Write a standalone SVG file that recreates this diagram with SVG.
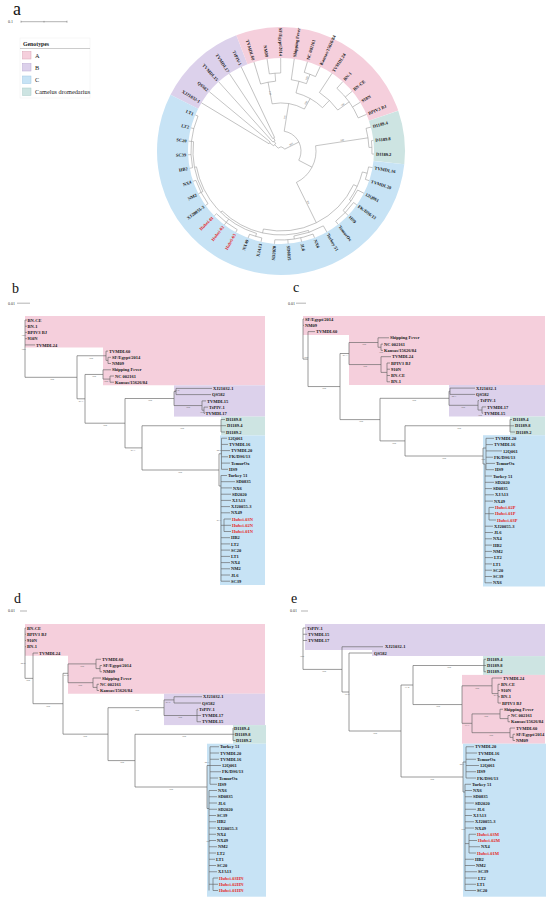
<svg xmlns="http://www.w3.org/2000/svg" width="550" height="903" viewBox="0 0 550 903">
<style>
.l{font-family:"Liberation Serif",serif;font-size:4.5px;font-weight:bold;fill:#1a1a1a}
.r{fill:#e41f26}
.e{text-anchor:end}
.s{font-family:"Liberation Serif",serif;font-size:2.6px;fill:#666;text-anchor:middle}
.t{fill:none;stroke:#636363;stroke-width:0.65}
.ta{fill:none;stroke:#858585;stroke-width:0.45}
.pl{font-family:"Liberation Serif",serif;font-size:14px;fill:#111}
.sc{font-family:"Liberation Serif",serif;font-size:4px;fill:#333}
.sb{fill:none;stroke:#666;stroke-width:0.5}
.cA{fill:#f5cfdc}.cB{fill:#dcd1eb}.cC{fill:#c7e3f5}.cD{fill:#cde4e2}
.lg{font-family:"Liberation Serif",serif;font-size:6.3px;fill:#222}
</style>
<rect width="550" height="903" fill="#fff"/>

<!-- ================= Panel a ================= -->
<g id="panel-a">
<text class="pl" x="13" y="15" style="font-size:18px">a</text>
<g id="a-scale"><text class="sc" x="8" y="23.3">0.1</text><path class="sb" d="M21,21.7H67M21,20.7V22.7M44,20.9V22.5M67,20.7V22.7"/></g>
<g id="legend">
<rect x="20" y="38" width="70" height="60" fill="#fff" stroke="#eee" stroke-width="0.5"/>
<text x="23" y="45.5" style="font-family:'Liberation Serif',serif;font-size:5.8px;font-weight:bold;fill:#222">Genotypes</text>
<path d="M20,48.5H90" stroke="#999" stroke-width="0.5"/>
<rect x="22.5" y="51.5" width="8.5" height="7.5" class="cA" stroke="#d9a3b5" stroke-width="0.5"/><text class="lg" x="35" y="57.6">A</text>
<rect x="22.5" y="63.5" width="8.5" height="7.5" class="cB" stroke="#b9a8d2" stroke-width="0.5"/><text class="lg" x="35" y="69.6">B</text>
<rect x="22.5" y="76" width="8.5" height="7.5" class="cC" stroke="#9ec8e3" stroke-width="0.5"/><text class="lg" x="35" y="82.1">C</text>
<rect x="22.5" y="88" width="8.5" height="7.5" class="cD" stroke="#a9cbc8" stroke-width="0.5"/><text class="lg" x="35" y="94.1">Camelus dromedarius</text>
</g>
<g id="a-ring" transform="translate(281,151)" fill="none" stroke-width="31">
<circle r="108.5" pathLength="360" stroke="#dcd1eb" stroke-dasharray="41.9 400" transform="rotate(207)"/>
<circle r="108.5" pathLength="360" stroke="#f5cfdc" stroke-dasharray="92.1 400" transform="rotate(248.9)"/>
<circle r="108.5" pathLength="360" stroke="#cde4e2" stroke-dasharray="25.1 400" transform="rotate(341)"/>
<circle r="108.5" pathLength="360" stroke="#c7e3f5" stroke-dasharray="200.9 400" transform="rotate(6.1)"/>
</g>
<g id="a-connectors" class="ta" transform="translate(281,151)">
<circle r="14" pathLength="360" stroke-dasharray="8.4 400" transform="rotate(211.2)"/>
<circle r="15" pathLength="360" stroke-dasharray="8.4 400" transform="rotate(236.3)"/>
<circle r="12" pathLength="360" stroke-dasharray="12.5 400" transform="rotate(228)"/>
<circle r="9" pathLength="360" stroke-dasharray="18.85 400" transform="rotate(215.4)"/>
<circle r="78" pathLength="360" stroke-dasharray="8.4 400" transform="rotate(261.4)"/>
<circle r="70" pathLength="360" stroke-dasharray="12.5 400" transform="rotate(253.1)"/>
<circle r="82" pathLength="360" stroke-dasharray="8.4 400" transform="rotate(286.5)"/>
<circle r="72" pathLength="360" stroke-dasharray="12.5 400" transform="rotate(278.2)"/>
<circle r="84" pathLength="360" stroke-dasharray="25.1 400" transform="rotate(311.7)"/>
<circle r="70" pathLength="360" stroke-dasharray="20.9 400" transform="rotate(303.3)"/>
<circle r="60" pathLength="360" stroke-dasharray="29.3 400" transform="rotate(284.45)"/>
<circle r="48" pathLength="360" stroke-dasharray="39.75 400" transform="rotate(259.35)"/>
<circle r="91" pathLength="360" stroke-dasharray="8.4 400" transform="rotate(353.5)"/>
<circle r="88" pathLength="360" stroke-dasharray="12.6 400" transform="rotate(345.1)"/>
<circle r="89" pathLength="360" stroke-dasharray="8.3 400" transform="rotate(370.3)"/>
<circle r="89" pathLength="360" stroke-dasharray="16.7 400" transform="rotate(395.4)"/>
<circle r="86" pathLength="360" stroke-dasharray="16.8 400" transform="rotate(387)"/>
<circle r="84" pathLength="360" stroke-dasharray="20.95 400" transform="rotate(374.45)"/>
<circle r="89" pathLength="360" stroke-dasharray="25.1 400" transform="rotate(428.9)"/>
<circle r="86" pathLength="360" stroke-dasharray="20.9 400" transform="rotate(420.5)"/>
<circle r="89" pathLength="360" stroke-dasharray="8.3 400" transform="rotate(462.4)"/>
<circle r="90" pathLength="360" stroke-dasharray="16.7 400" transform="rotate(479.1)"/>
<circle r="90" pathLength="360" stroke-dasharray="16.8 400" transform="rotate(504.2)"/>
<circle r="90" pathLength="360" stroke-dasharray="33.5 400" transform="rotate(529.3)"/>
<circle r="88" pathLength="360" stroke-dasharray="33.5 400" transform="rotate(512.6)"/>
<circle r="86" pathLength="360" stroke-dasharray="62.8 400" transform="rotate(466.55)"/>
<circle r="84" pathLength="360" stroke-dasharray="63.55 400" transform="rotate(430.95)"/>
<circle r="80" pathLength="360" stroke-dasharray="77.8 400" transform="rotate(384.9)"/>
<circle r="35" pathLength="360" stroke-dasharray="72.4 400" transform="rotate(351.4)"/>
<circle r="20" pathLength="360" stroke-dasharray="108.4 400" transform="rotate(279.2)"/>
<circle r="4" pathLength="360" stroke-dasharray="108.6 400" transform="rotate(224.8)"/>
<line x1="4" x2="9" transform="rotate(224.8)"/>
<line x1="4" x2="20" transform="rotate(333.4)"/>
<line x1="20" x2="48" transform="rotate(279.2)"/>
<line x1="20" x2="35" transform="rotate(387.6)"/>
<line x1="35" x2="88" transform="rotate(351.4)"/>
<line x1="35" x2="80" transform="rotate(423.8)"/>
<line x1="9" x2="14" transform="rotate(215.4)"/>
<line x1="9" x2="12" transform="rotate(234.25)"/>
<line x1="12" x2="15" transform="rotate(240.5)"/>
<line x1="48" x2="70" transform="rotate(259.35)"/>
<line x1="48" x2="60" transform="rotate(299.1)"/>
<line x1="70" x2="78" transform="rotate(265.6)"/>
<line x1="60" x2="72" transform="rotate(284.45)"/>
<line x1="60" x2="70" transform="rotate(313.75)"/>
<line x1="72" x2="82" transform="rotate(290.7)"/>
<line x1="70" x2="84" transform="rotate(324.2)"/>
<line x1="88" x2="91" transform="rotate(357.7)"/>
<line x1="80" x2="84" transform="rotate(384.9)"/>
<line x1="80" x2="84" transform="rotate(462.7)"/>
<line x1="84" x2="89" transform="rotate(374.45)"/>
<line x1="84" x2="86" transform="rotate(395.4)"/>
<line x1="86" x2="89" transform="rotate(403.8)"/>
<line x1="84" x2="86" transform="rotate(430.95)"/>
<line x1="84" x2="86" transform="rotate(494.5)"/>
<line x1="86" x2="89" transform="rotate(441.4)"/>
<line x1="86" x2="89" transform="rotate(466.55)"/>
<line x1="86" x2="90" transform="rotate(487.5)"/>
<line x1="86" x2="88" transform="rotate(529.35)"/>
<line x1="88" x2="90" transform="rotate(512.6)"/>
<line x1="88" x2="90" transform="rotate(546.1)"/>
<line x1="14" x2="93" transform="rotate(211.2)"/>
<line x1="14" x2="93" transform="rotate(219.6)"/>
<line x1="12" x2="93" transform="rotate(228)"/>
<line x1="15" x2="93" transform="rotate(236.3)"/>
<line x1="15" x2="93" transform="rotate(244.7)"/>
<line x1="70" x2="93" transform="rotate(253.1)"/>
<line x1="78" x2="93" transform="rotate(261.4)"/>
<line x1="78" x2="93" transform="rotate(269.8)"/>
<line x1="72" x2="93" transform="rotate(278.2)"/>
<line x1="82" x2="93" transform="rotate(286.5)"/>
<line x1="82" x2="93" transform="rotate(294.9)"/>
<line x1="70" x2="93" transform="rotate(303.3)"/>
<line x1="84" x2="93" transform="rotate(311.7)"/>
<line x1="84" x2="93" transform="rotate(320)"/>
<line x1="84" x2="93" transform="rotate(328.4)"/>
<line x1="84" x2="93" transform="rotate(336.8)"/>
<line x1="88" x2="93" transform="rotate(345.1)"/>
<line x1="91" x2="93" transform="rotate(353.5)"/>
<line x1="91" x2="93" transform="rotate(361.9)"/>
<line x1="89" x2="93" transform="rotate(370.3)"/>
<line x1="89" x2="93" transform="rotate(378.6)"/>
<line x1="86" x2="93" transform="rotate(387)"/>
<line x1="89" x2="93" transform="rotate(395.4)"/>
<line x1="89" x2="93" transform="rotate(403.8)"/>
<line x1="89" x2="93" transform="rotate(412.1)"/>
<line x1="86" x2="93" transform="rotate(420.5)"/>
<line x1="89" x2="93" transform="rotate(428.9)"/>
<line x1="89" x2="93" transform="rotate(437.2)"/>
<line x1="89" x2="93" transform="rotate(445.6)"/>
<line x1="89" x2="93" transform="rotate(454)"/>
<line x1="89" x2="93" transform="rotate(462.4)"/>
<line x1="89" x2="93" transform="rotate(470.7)"/>
<line x1="90" x2="93" transform="rotate(479.1)"/>
<line x1="90" x2="93" transform="rotate(487.5)"/>
<line x1="90" x2="93" transform="rotate(495.8)"/>
<line x1="90" x2="93" transform="rotate(504.2)"/>
<line x1="90" x2="93" transform="rotate(512.6)"/>
<line x1="90" x2="93" transform="rotate(521)"/>
<line x1="90" x2="93" transform="rotate(529.3)"/>
<line x1="90" x2="93" transform="rotate(537.7)"/>
<line x1="90" x2="93" transform="rotate(546.1)"/>
<line x1="90" x2="93" transform="rotate(554.4)"/>
<line x1="90" x2="93" transform="rotate(562.8)"/>
</g>
<g id="a-support" class="s" transform="translate(281,151)">
<text transform="rotate(279.2) translate(34,-0.8)">100</text>
<text transform="rotate(351.4) translate(62,-0.8)">100</text>
<text transform="rotate(423.8) translate(58,-0.8)">100</text>
<text transform="rotate(299.1) translate(54,-0.8)">100</text>
<text transform="rotate(259.35) translate(59,-0.8) rotate(180)">100</text>
<text transform="rotate(324.2) translate(77,-0.8)">100</text>
<text transform="rotate(290.7) translate(77,-0.8)">100</text>
<text transform="rotate(333.4) translate(12,-0.8)">100</text>
</g>
<g id="a-leaves" class="l" transform="translate(281,151)">
<text class="e" transform="rotate(211.2) translate(95,0) rotate(180)" dy="1.5">XJ21032-1</text>
<text class="e" transform="rotate(219.6) translate(95,0) rotate(180)" dy="1.5">QS582</text>
<text class="e" transform="rotate(228) translate(95,0) rotate(180)" dy="1.5">TVMDL15</text>
<text class="e" transform="rotate(236.3) translate(95,0) rotate(180)" dy="1.5">TVMDL17</text>
<text class="e" transform="rotate(244.7) translate(95,0) rotate(180)" dy="1.5">TtPIV-1</text>
<text class="e" transform="rotate(253.1) translate(95,0) rotate(180)" dy="1.5">TVMDL60</text>
<text class="e" transform="rotate(261.4) translate(95,0) rotate(180)" dy="1.5">NM09</text>
<text class="e" transform="rotate(269.8) translate(95,0) rotate(180)" dy="1.5">SF/Egypt/2014</text>
<text transform="rotate(278.2) translate(95,1.5)">Shipping Fever</text>
<text transform="rotate(286.5) translate(95,1.5)">NC 002161</text>
<text transform="rotate(294.9) translate(95,1.5)">Kansas/15626/84</text>
<text transform="rotate(303.3) translate(95,1.5)">TVMDL24</text>
<text transform="rotate(311.7) translate(95,1.5)">BN-1</text>
<text transform="rotate(320) translate(95,1.5)">BN-CE</text>
<text transform="rotate(328.4) translate(95,1.5)">910N</text>
<text transform="rotate(336.8) translate(95,1.5)">BPIV3 BJ</text>
<text transform="rotate(345.1) translate(95,1.5)">D1189.4</text>
<text transform="rotate(353.5) translate(95,1.5)">D1189.8</text>
<text transform="rotate(361.9) translate(95,1.5)">D1189.2</text>
<text transform="rotate(370.3) translate(95,1.5)">TVMDL16</text>
<text transform="rotate(378.6) translate(95,1.5)">TVMDL20</text>
<text transform="rotate(387) translate(95,1.5)">12Q061</text>
<text transform="rotate(395.4) translate(95,1.5)">FK/DS6/13</text>
<text transform="rotate(403.8) translate(95,1.5)">HS9</text>
<text transform="rotate(412.1) translate(95,1.5)">TemurOx</text>
<text transform="rotate(420.5) translate(95,1.5)">Turkey 51</text>
<text transform="rotate(428.9) translate(95,1.5)">NX6</text>
<text transform="rotate(437.2) translate(95,1.5)">JL6</text>
<text transform="rotate(445.6) translate(95,1.5)">SD0835</text>
<text class="e" transform="rotate(454) translate(95,0) rotate(180)" dy="1.5">SD2020</text>
<text class="e" transform="rotate(462.4) translate(95,0) rotate(180)" dy="1.5">XJA13</text>
<text class="e" transform="rotate(470.7) translate(95,0) rotate(180)" dy="1.5">NX49</text>
<text class="e r" transform="rotate(479.1) translate(95,0) rotate(180)" dy="1.5">Hubei-03</text>
<text class="e r" transform="rotate(487.5) translate(95,0) rotate(180)" dy="1.5">Hubei-02</text>
<text class="e r" transform="rotate(495.8) translate(95,0) rotate(180)" dy="1.5">Hubei-01</text>
<text class="e" transform="rotate(504.2) translate(95,0) rotate(180)" dy="1.5">XJ20055-3</text>
<text class="e" transform="rotate(512.6) translate(95,0) rotate(180)" dy="1.5">NM2</text>
<text class="e" transform="rotate(521) translate(95,0) rotate(180)" dy="1.5">NX4</text>
<text class="e" transform="rotate(529.3) translate(95,0) rotate(180)" dy="1.5">HB2</text>
<text class="e" transform="rotate(537.7) translate(95,0) rotate(180)" dy="1.5">SC39</text>
<text class="e" transform="rotate(546.1) translate(95,0) rotate(180)" dy="1.5">SC20</text>
<text class="e" transform="rotate(554.4) translate(95,0) rotate(180)" dy="1.5">LT2</text>
<text class="e" transform="rotate(562.8) translate(95,0) rotate(180)" dy="1.5">LT1</text>
</g>
</g>

<!-- ================= Panel b ================= -->
<g id="panel-b">
<text class="pl" x="12" y="293">b</text>
<g id="b-scale"><text class="sc" x="8" y="304.5">0.01</text><path class="sb" d="M17,303.2H30"/></g>
<g id="b-boxes">
<path class="cA" d="M25,316H265V385.3H103V347.5H25Z"/>
<rect class="cB" x="174" y="385.3" width="91" height="31.3"/>
<rect class="cD" x="221" y="416.6" width="44" height="18.8"/>
<rect class="cC" x="220" y="435.4" width="45" height="149.6"/>
</g>
<g id="b-connectors">
<path class="t" d="M25,320V377.3M25,377.3H77M25,320H27M25,326.2H27M25,332.4H27M25,338.7H27M25,344.9H35
M77,355.75V398.8M77,355.75H106M77,398.8H85
M106,351.1V360.4M106,351.1H108M106,360.4H108M108,357.3V363.5M108,357.3H111M108,363.5H111
M85,374.45V423.2M85,374.45H103M85,423.2H125
M103,369.8V379.1M103,369.8H111M103,379.1H110M110,376V382.2M110,376H114M110,382.2H114
M125,398.5V447.9M125,398.5H174M125,447.9H142
M174,391.5V405.55M174,391.5H176M174,405.55H202
M176,388.4V394.6M176,388.4H212M176,394.6H211
M202,400.9V410.2M202,400.9H206M202,410.2H204M204,407.1V413.3M204,407.1H208M204,413.3H205
M142,425.75V470M142,425.75H221M142,470H219
M221,419.5V432M221,419.5H225M221,425.7H226M221,432H225
M219,453.75V486M219,453.75H221.5M219,486H221
M221.5,438.2V469.3M221.5,438.2H227M221.5,444.4H228M221.5,450.6H230M221.5,456.8H228M221.5,463.1H230M221.5,469.3H228
M221,475.5V581.2M221,475.5H227M221,481.7H235M221,487.9H232M221,494.2H231M221,500.4H231M221,506.6H230M221,512.8H230
M224,519V531.5M221,525.3H224M224,519H231M224,525.3H231M224,531.5H231
M221,537.7H230M221,543.9H230M221,550.1H230M221,556.4H230M221,562.6H230M221,568.8H230M221,575H230M221,581.2H230"/>
</g>
<g id="b-support" class="s">
<text x="23.5" y="336">100</text><text x="23.5" y="350">100</text><text x="52" y="380.1">100</text>
<text x="91" y="358.5">100</text><text x="94" y="377.2">100</text><text x="81" y="401.6">97.7</text>
<text x="105" y="426">100</text><text x="106" y="381.9">100</text><text x="150" y="401.3">100</text>
<text x="133" y="450.7">97.7</text><text x="182" y="428.5">100</text><text x="180" y="472.8">100</text>
<text x="177" y="390.5">97.2</text><text x="188" y="408.3">100</text><text x="202" y="412.8">100</text>
<text x="219" y="451">90.2</text><text x="219" y="521">97.7</text>
</g>
<g id="b-leaves" class="l">
<g id="b-A"><text x="27.5" y="321.6">BN-CE</text><text x="27.5" y="327.8">BN-1</text><text x="27.5" y="334">BPIV3 BJ</text><text x="27.5" y="340.3">910N</text><text x="36" y="346.5">TVMDL24</text><text x="109" y="352.7">TVMDL60</text><text x="112" y="358.9">SF/Egypt/2014</text><text x="112" y="365.1">NM09</text><text x="112" y="371.4">Shipping Fever</text><text x="115" y="377.6">NC 002161</text><text x="115" y="383.8">Kansas/15626/84</text></g>
<g id="b-B"><text x="213" y="390">XJ21032-1</text><text x="212" y="396.2">QS582</text><text x="207" y="402.5">TVMDL15</text><text x="209" y="408.7">TtPIV-1</text><text x="205.5" y="414.9">TVMDL17</text></g>
<g id="b-D"><text x="226" y="421.1">D1189.8</text><text x="227" y="427.3">D1189.4</text><text x="226" y="433.6">D1189.2</text></g>
<g id="b-C"><text x="228" y="439.8">12Q061</text><text x="229" y="446">TVMDL16</text><text x="231" y="452.2">TVMDL20</text><text x="229" y="458.4">FK/DS6/13</text><text x="231" y="464.7">TemurOx</text><text x="229" y="470.9">HS9</text><text x="228" y="477.1">Turkey 51</text><text x="236" y="483.3">SD0835</text><text x="233" y="489.5">NX6</text><text x="232" y="495.8">SD2020</text><text x="232" y="502">XJA13</text><text x="231" y="508.2">XJ20055-3</text><text x="231" y="514.4">NX49</text><text class="r" x="232" y="520.6">Hubei-03N</text><text class="r" x="232" y="526.9">Hubei-02N</text><text class="r" x="232" y="533.1">Hubei-01N</text><text x="231" y="539.3">HB2</text><text x="231" y="545.5">LT2</text><text x="231" y="551.7">SC20</text><text x="231" y="558">LT1</text><text x="231" y="564.2">NX4</text><text x="231" y="570.4">NM2</text><text x="231" y="576.6">JL6</text><text x="231" y="582.8">SC39</text></g>
</g>
</g>

<!-- ================= Panel c ================= -->
<g id="panel-c">
<text class="pl" x="293" y="292">c</text>
<g id="c-scale"><text class="sc" x="288" y="304.5">0.01</text><path class="sb" d="M296,303.2H306"/></g>
<g id="c-boxes">
<path class="cA" d="M303,316H545V385H349V335H303Z"/>
<rect class="cB" x="449" y="385" width="96" height="31.5"/>
<rect class="cD" x="510" y="416.5" width="35" height="18.7"/>
<rect class="cC" x="483" y="435.2" width="62" height="151.3"/>
</g>
<g id="c-connectors">
<path class="t" d="M303,319V359.1M303,319H304M303,325.3H304M303,359.1H308
M308,331.6V386.55M308,331.6H315M308,386.55H340
M340,353.5V419.6M340,353.5H349M340,419.6H380
M349,342.5V364.55M349,342.5H378M349,364.55H381
M378,337.8V347.25M378,337.8H389M378,347.25H381M381,344.1V350.4M381,344.1H383M381,350.4H383
M381,356.7V372.4M381,356.7H391M381,372.4H387M387,363V381.8M387,363H390M387,369.2H390M387,375.5H390M387,381.8H390
M380,398.3V440.9M380,398.3H449M380,440.9H405
M449,391.25V405.3M449,391.25H450M449,405.3H478
M450,388.1V394.4M450,388.1H475M450,394.4H475
M478,400.6V410.05M478,400.6H479M478,410.05H482M482,406.9V413.2M482,406.9H486M482,413.2H483
M405,425.75V456M405,425.75H510M405,456H483
M510,419.5V432M510,419.5H512M510,425.8H514M510,432H515
M483,448V464M483,448H486M483,464H485
M486,438.3V469.7M486,438.3H494M486,444.6H493M486,450.9H502M486,457.2H493M486,463.4H495M486,469.7H494
M485,464V582.8M485,476H492M485,482.3H494M485,488.6H492M485,494.8H494M485,501.1H493
M489,507.4V520M485,513.7H489M489,507.4H494M489,513.7H494M489,520H496
M485,526.2H493M485,532.5H493M485,538.8H492M485,545.1H492M485,551.4H492M485,557.6H493M485,563.9H492M485,570.2H492M485,576.5H492M485,582.8H492"/>
</g>
<g id="c-support" class="s">
<text x="306" y="357.5">100</text><text x="324" y="389.3">100</text><text x="345" y="356.3">97.3</text>
<text x="364" y="345.3">100</text><text x="365" y="367.4">100</text><text x="381" y="353">100</text>
<text x="361" y="422.4">100</text><text x="414" y="401.1">100</text><text x="394" y="443.7">100</text>
<text x="459" y="428.5">100</text><text x="444" y="458.8">100</text><text x="463" y="408.1">100</text>
<text x="454" y="397">99.7</text><text x="480" y="416">100</text><text x="483" y="460">100</text>
</g>
<g id="c-leaves" class="l">
<g id="c-A"><text x="305" y="320.6">SF/Egypt/2014</text><text x="305" y="326.9">NM09</text><text x="316" y="333.2">TVMDL60</text><text x="390" y="339.4">Shipping Fever</text><text x="384" y="345.7">NC 002161</text><text x="384" y="352">Kansas/15626/84</text><text x="392" y="358.3">TVMDL24</text><text x="391" y="364.6">BPIV3 BJ</text><text x="391" y="370.8">910N</text><text x="391" y="377.1">BN-CE</text><text x="391" y="383.4">BN-1</text></g>
<g id="c-B"><text x="476" y="389.7">XJ21032-1</text><text x="476" y="396">QS582</text><text x="480" y="402.2">TtPIV-1</text><text x="487" y="408.5">TVMDL17</text><text x="484" y="414.8">TVMDL15</text></g>
<g id="c-D"><text x="513" y="421.1">D1189.4</text><text x="515" y="427.4">D1189.8</text><text x="516" y="433.6">D1189.2</text></g>
<g id="c-C"><text x="495" y="439.9">TVMDL20</text><text x="494" y="446.2">TVMDL16</text><text x="503" y="452.5">12Q061</text><text x="494" y="458.8">FK/DS6/13</text><text x="496" y="465">TemurOx</text><text x="495" y="471.3">HS9</text><text x="493" y="477.6">Turkey 51</text><text x="495" y="483.9">SD2020</text><text x="493" y="490.2">SD0835</text><text x="495" y="496.4">XJA13</text><text x="494" y="502.7">NX49</text><text class="r" x="495" y="509">Hubei-02P</text><text class="r" x="495" y="515.3">Hubei-01P</text><text class="r" x="497" y="521.6">Hubei-03P</text><text x="494" y="527.8">XJ20055-3</text><text x="494" y="534.1">JL6</text><text x="493" y="540.4">NX4</text><text x="493" y="546.7">HB2</text><text x="493" y="553">NM2</text><text x="494" y="559.2">LT2</text><text x="493" y="565.5">LT1</text><text x="493" y="571.8">SC20</text><text x="493" y="578.1">SC39</text><text x="493" y="584.4">NX6</text></g>
</g>
</g>

<!-- ================= Panel d ================= -->
<g id="panel-d">
<text class="pl" x="14" y="603">d</text>
<g id="d-scale"><text class="sc" x="8" y="612.3">0.01</text><path class="sb" d="M20,611H27"/></g>
<g id="d-boxes">
<path class="cA" d="M25,624H265V693.7H68V655.8H25Z"/>
<rect class="cB" x="164" y="693.7" width="101" height="31.4"/>
<rect class="cD" x="233" y="725.1" width="33" height="18.6"/>
<rect class="cC" x="207" y="743.7" width="59" height="153"/>
</g>
<g id="d-connectors">
<path class="t" d="M25,628V678.35M25,628H26M25,634.25H26M25,640.5H26M25,646.75H26M25,678.35H33
M33,653V703.7M33,653H38M33,703.7H63
M63,673.3V734.15M63,673.3H68M63,734.15H108
M68,663.9V682.7M68,663.9H96M68,682.7H93
M96,659.25V668.6M96,659.25H101M96,668.6H100M100,665.5V671.75M100,665.5H102M100,671.75H102
M93,678V687.4M93,678H101M93,687.4H97M97,684.25V690.5M97,684.25H99M97,690.5H99
M108,707.7V760.6M108,707.7H164M108,760.6H135
M164,699.9V715.5M164,699.9H174M164,715.5H197
M174,696.75V703M174,696.75H202M174,703H201
M197,709.25V721.75M197,709.25H198M197,715.5H201M197,721.75H201
M135,734.25V787M135,734.25H233M135,787H207
M233,728V740.5M233,728H233.5M233,734.25H234.5M233,740.5H235.5
M207,765.5V808.5M207,765.5H210M207,808.5H209
M210,746.75V784.25M210,746.75H219M210,753H219M210,759.25H219M210,765.5H221M210,771.75H221M210,778H218M210,784.25H217
M209,790.5V890.5M209,790.5H217M209,796.75H217M209,803H217M209,809.25H217M209,815.5H216M209,821.75H216M209,828H216M209,834.25H216M209,840.5H216M209,846.75H217M209,853H216M209,859.25H215M209,865.5H216M209,871.75H217
M213,878V890.5M209,884.25H213M213,878H218M213,884.25H218M213,890.5H218"/>
</g>
<g id="d-support" class="s">
<text x="23" y="664">99.9</text><text x="28" y="681">100</text><text x="48" y="706.5">100</text>
<text x="66" y="676">87.2</text><text x="82" y="666.7">100</text><text x="80" y="685.5">100</text>
<text x="85" y="737">100</text><text x="137" y="710.5">100</text><text x="168" y="702.5">97.5</text>
<text x="180" y="718.3">100</text><text x="122" y="763.4">100</text><text x="184" y="737">100</text>
<text x="171" y="789.8">100</text><text x="207" y="763">99.1</text><text x="208" y="842">100</text>
</g>
<g id="d-leaves" class="l">
<g id="d-A"><text x="27" y="629.6">BN-CE</text><text x="27" y="635.85">BPIV3 BJ</text><text x="27" y="642.1">910N</text><text x="27" y="648.35">BN-1</text><text x="39" y="654.6">TVMDL24</text><text x="102" y="660.85">TVMDL60</text><text x="103" y="667.1">SF/Egypt/2014</text><text x="103" y="673.35">NM09</text><text x="102" y="679.6">Shipping Fever</text><text x="100" y="685.85">NC 002161</text><text x="100" y="692.1">Kansas/15626/84</text></g>
<g id="d-B"><text x="203" y="698.35">XJ21032-1</text><text x="202" y="704.6">QS582</text><text x="199" y="710.85">TtPIV-1</text><text x="202" y="717.1">TVMDL17</text><text x="202" y="723.35">TVMDL15</text></g>
<g id="d-D"><text x="234" y="729.6">D1189.4</text><text x="235" y="735.85">D1189.8</text><text x="236" y="742.1">D1189.2</text></g>
<g id="d-C"><text x="220" y="748.35">Turkey 51</text><text x="220" y="754.6">TVMDL20</text><text x="220" y="760.85">TVMDL16</text><text x="222" y="767.1">12Q061</text><text x="222" y="773.35">FK/DS6/13</text><text x="219" y="779.6">TemurOx</text><text x="218" y="785.85">HS9</text><text x="218" y="792.1">NX6</text><text x="218" y="798.35">SD0835</text><text x="218" y="804.6">JL6</text><text x="218" y="810.85">SD2020</text><text x="217" y="817.1">SC39</text><text x="217" y="823.35">HB2</text><text x="217" y="829.6">XJ20055-3</text><text x="217" y="835.85">NX4</text><text x="217" y="842.1">NX49</text><text x="218" y="848.35">NM2</text><text x="217" y="854.6">LT2</text><text x="216" y="860.85">LT1</text><text x="217" y="867.1">SC20</text><text x="218" y="873.35">XJA13</text><text class="r" x="219" y="879.6">Hubei-03HN</text><text class="r" x="219" y="885.85">Hubei-02HN</text><text class="r" x="219" y="892.1">Hubei-01HN</text></g>
</g>
</g>

<!-- ================= Panel e ================= -->
<g id="panel-e">
<text class="pl" x="291" y="603">e</text>
<g id="e-scale"><text class="sc" x="290" y="612.3">0.01</text><path class="sb" d="M301,611H308"/></g>
<g id="e-boxes">
<path class="cB" d="M305,624H545V656.1H372V650H305Z"/>
<rect class="cD" x="483" y="656.1" width="62" height="18.8"/>
<rect class="cA" x="462" y="674.9" width="83" height="68.8"/>
<rect class="cC" x="463" y="743.7" width="83" height="153"/>
</g>
<g id="e-connectors">
<path class="t" d="M303,628V669.4M303,628H306M303,634.25H307M303,640.5H307M303,669.4H342
M342,646.75V692M342,646.75H383M342,692H349
M349,653V731M349,653H372M349,731H401
M401,685V777M401,685H413M401,777H463
M413,665.5V704.55M413,665.5H484M413,704.55H462
M484,659.25V671.75M484,659.25H486M484,665.5H486M484,671.75H486
M462,685.8V723.3M462,685.8H492M462,723.3H472
M492,678V693.6M492,678H502M492,693.6H498
M498,684.25V703M498,684.25H500M498,690.5H500M498,696.75H500M498,703H501
M472,713.9V732.7M472,713.9H500M472,732.7H510
M500,709.25V718.6M500,709.25H503M500,718.6H508M508,715.5V721.75M508,715.5H510M508,721.75H510
M510,728V737.4M510,728H515M510,737.4H513M513,734.25V740.5M513,734.25H515M513,740.5H515
M463,762V792M463,762H466M463,792H465
M466,746.75V778M466,746.75H474M466,753H477M466,759.25H476M466,765.5H479M466,771.75H476M466,778H476
M465,784.25V890.5M465,784.25H471M465,790.5H472M465,796.75H472M465,803H474M465,809.25H476M465,815.5H472M465,821.75H474M465,828H474
M469,834.25V853M465,843.6H469M469,834.25H476M469,840.5H477M469,846.75H480M469,853H476
M465,859.25H474M465,865.5H475M465,871.75H477M465,878H477M465,884.25H476M465,890.5H476"/>
</g>
<g id="e-support" class="s">
<text x="302" y="657">100</text><text x="324" y="672.2">100</text><text x="347" y="695">76.6</text>
<text x="375" y="733.8">100</text><text x="407" y="687.8">71.4</text><text x="449" y="668.3">100</text>
<text x="438" y="707.3">100</text><text x="477" y="688.6">100</text><text x="467" y="726">77.7</text>
<text x="486" y="716.7">100</text><text x="491" y="735.5">100</text><text x="432" y="779.8">100</text>
<text x="496" y="696">97.2</text><text x="462" y="765">99.1</text><text x="463" y="830">100</text>
</g>
<g id="e-leaves" class="l">
<g id="e-B"><text x="307" y="629.6">TtPIV-1</text><text x="308" y="635.85">TVMDL15</text><text x="308" y="642.1">TVMDL17</text><text x="385" y="648.35">XJ21032-1</text><text x="374" y="654.6">QS582</text></g>
<g id="e-D"><text x="487" y="660.85">D1189.4</text><text x="487" y="667.1">D1189.8</text><text x="487" y="673.35">D1189.2</text></g>
<g id="e-A"><text x="503" y="679.6">TVMDL24</text><text x="501" y="685.85">BN-CE</text><text x="501" y="692.1">910N</text><text x="501" y="698.35">BN-1</text><text x="502" y="704.6">BPIV3 BJ</text><text x="504" y="710.85">Shipping Fever</text><text x="511" y="717.1">NC 002161</text><text x="511" y="723.35">Kansas/15626/84</text><text x="516" y="729.6">TVMDL60</text><text x="516" y="735.85">SF/Egypt/2014</text><text x="516" y="742.1">NM09</text></g>
<g id="e-C"><text x="475" y="748.35">TVMDL20</text><text x="478" y="754.6">TVMDL16</text><text x="477" y="760.85">TemurOx</text><text x="480" y="767.1">12Q061</text><text x="477" y="773.35">HS9</text><text x="477" y="779.6">FK/DS6/13</text><text x="472" y="785.85">Turkey 51</text><text x="473" y="792.1">NX6</text><text x="473" y="798.35">SD0835</text><text x="475" y="804.6">SD2020</text><text x="477" y="810.85">JL6</text><text x="473" y="817.1">XJA13</text><text x="475" y="823.35">XJ20055-3</text><text x="475" y="829.6">NX49</text><text class="r" x="477" y="835.85">Hubei-03M</text><text class="r" x="478" y="842.1">Hubei-02M</text><text x="481" y="848.35">NX4</text><text class="r" x="477" y="854.6">Hubei-01M</text><text x="475" y="860.85">HB2</text><text x="476" y="867.1">NM2</text><text x="478" y="873.35">SC39</text><text x="478" y="879.6">LT2</text><text x="477" y="885.85">LT1</text><text x="477" y="892.1">SC20</text></g>
</g>
</g>
</svg>
